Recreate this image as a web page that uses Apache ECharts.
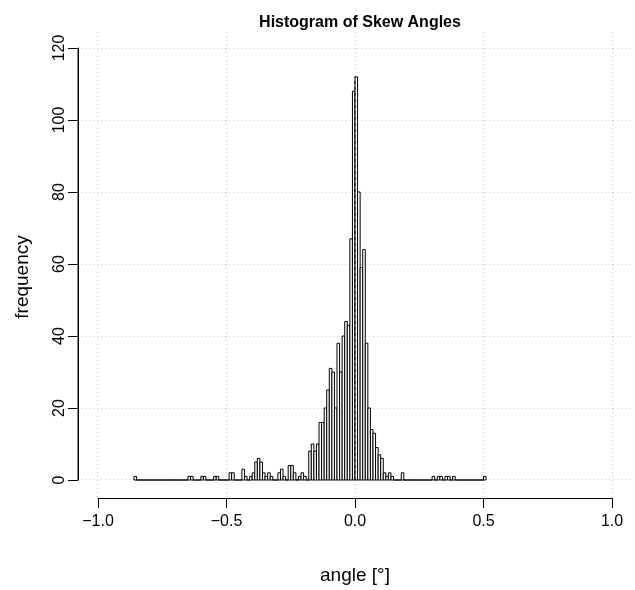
<!DOCTYPE html>
<html>
<head>
<meta charset="utf-8">
<script src="https://cdn.jsdelivr.net/npm/echarts@6/dist/echarts.min.js"></script>
<style>
  html, body { margin: 0; padding: 0; background: #fff; }
  #chart { width: 635px; height: 590px; }
</style>
</head>
<body>
<div id="chart"></div>
<script>
// Histogram of skew angles, bin width 0.01 degrees
const binWidth = 0.01;
const binStart = -0.86;
const counts = [
  // -0.86 .. -0.77
  1, 0, 0, 0, 0, 0, 0, 0, 0, 0,
  // -0.76 .. -0.67
  0, 0, 0, 0, 0, 0, 0, 0, 0, 0,
  // -0.66 .. -0.57
  0, 1, 1, 0, 0, 0, 1, 1, 0, 0,
  // -0.56 .. -0.47
  0, 1, 1, 0, 0, 0, 0, 2, 2, 0,
  // -0.46 .. -0.37
  0, 0, 3, 1, 0, 1, 2, 5, 6, 5,
  // -0.36 .. -0.27
  2, 1, 2, 1, 0, 0, 2, 3, 1, 0,
  // -0.26 .. -0.17
  4, 4, 2, 0, 1, 2, 1, 0, 8, 10,
  // -0.16 .. -0.07
  8, 10, 16, 16, 20, 25, 31, 30, 20, 38,
  // -0.06 .. 0.03
  30, 40, 44, 43, 67, 108, 112, 80, 59, 64,
  // 0.04 .. 0.13
  38, 20, 14, 13, 9, 7, 6, 2, 1, 2,
  // 0.14 .. 0.23
  1, 0, 0, 0, 2, 0, 0, 0, 0, 0,
  // 0.24 .. 0.33
  0, 0, 0, 0, 0, 0, 1, 0, 1, 1,
  // 0.34 .. 0.43
  0, 1, 1, 0, 1, 0, 0, 0, 0, 0,
  // 0.44 .. 0.50
  0, 0, 0, 0, 0, 0, 1
];

const xTicks = [-1.0, -0.5, 0.0, 0.5, 1.0];
const yTicks = [0, 20, 40, 60, 80, 100, 120];

const bins = counts.map((c, i) => {
  const x0 = +(binStart + i * binWidth).toFixed(2);
  return [x0, +(x0 + binWidth).toFixed(2), c];
});

const fontFamily = 'Liberation Sans, Arial, Helvetica, sans-serif';
const hiddenAxis = { show: false };

const chart = echarts.init(document.getElementById('chart'), null, { renderer: 'canvas' });

chart.setOption({
  animation: false,
  backgroundColor: '#ffffff',
  title: {
    text: 'Histogram of Skew Angles',
    left: 355, top: 10, textAlign: 'center',
    textStyle: { fontFamily, fontSize: 16, fontWeight: 'bold', color: '#000' }
  },
  grid: [
    // 0: data region, exactly -1..1 by 0..120
    { left: 98, right: 23, top: 48, bottom: 110 },
    // 1: full plotting region (4% padding) for the dotted guide lines
    { left: 77, right: 2, top: 31, bottom: 93 },
    // 2: carries the y axis on the left edge of the plotting region
    { left: 78, right: 23, top: 48, bottom: 110 },
    // 3: carries the x axis on the bottom edge of the plotting region
    { left: 98, right: 23, top: 48, bottom: 92 },
    // 4: positions the y axis title
    { left: 78, right: 23, top: 64, bottom: 100 }
  ],
  xAxis: [
    Object.assign({ gridIndex: 0, type: 'value', min: -1, max: 1 }, hiddenAxis),
    Object.assign({ gridIndex: 1, type: 'value', min: -1.08, max: 1.08 }, hiddenAxis),
    Object.assign({ gridIndex: 2, type: 'value', min: 0, max: 1 }, hiddenAxis),
    {
      gridIndex: 3, type: 'value', min: -1, max: 1, interval: 0.5, position: 'bottom',
      axisLine: { show: true, onZero: false, lineStyle: { color: '#000', width: 1 } },
      axisTick: { show: true, length: 10, lineStyle: { color: '#000' } },
      axisLabel: { fontFamily, fontSize: 16, color: '#000', margin: 16,
        formatter: v => (v < 0 ? '\u2212' : '') + Math.abs(v).toFixed(1) },
      splitLine: { show: false },
      name: 'angle [°]', nameLocation: 'middle', nameGap: 68,
      nameTextStyle: { fontFamily, fontSize: 19, color: '#000' }
    },
    Object.assign({ gridIndex: 4, type: 'value', min: 0, max: 1 }, hiddenAxis)
  ],
  yAxis: [
    Object.assign({ gridIndex: 0, type: 'value', min: 0, max: 120 }, hiddenAxis),
    Object.assign({ gridIndex: 1, type: 'value', min: -4.8, max: 124.8 }, hiddenAxis),
    {
      gridIndex: 2, type: 'value', min: 0, max: 120, interval: 20, position: 'left',
      axisLine: { show: true, onZero: false, lineStyle: { color: '#000', width: 1 } },
      axisTick: { show: true, length: 10, lineStyle: { color: '#000' } },
      axisLabel: { fontFamily, fontSize: 16, color: '#000', rotate: 90, margin: 10 },
      splitLine: { show: false }
    },
    Object.assign({ gridIndex: 3, type: 'value', min: 0, max: 1 }, hiddenAxis),
    {
      gridIndex: 4, type: 'value', min: 0, max: 1, position: 'left',
      axisLine: { show: false }, axisTick: { show: false },
      axisLabel: { show: false }, splitLine: { show: false },
      name: 'frequency', nameLocation: 'middle', nameGap: 46, nameRotate: 90,
      nameTextStyle: { fontFamily, fontSize: 19, color: '#000' }
    }
  ],
  series: [
    {
      // dotted reference grid
      type: 'line', xAxisIndex: 1, yAxisIndex: 1, data: [], z: 1, silent: true,
      markLine: {
        silent: true, symbol: 'none', label: { show: false },
        lineStyle: { color: '#c8c8c8', type: [1, 3], width: 1 },
        data: xTicks.map(v => ({ xAxis: v })).concat(yTicks.map(v => ({ yAxis: v })))
      }
    },
    {
      // y axis spine, spanning the tick range 0..120
      type: 'line', xAxisIndex: 2, yAxisIndex: 2, z: 6, silent: true, clip: false,
      symbol: 'none',
      data: [[0, yTicks[0]], [0, yTicks[yTicks.length - 1]]],
      lineStyle: { color: '#000', width: 1 }
    },
    {
      type: 'custom', xAxisIndex: 0, yAxisIndex: 0, z: 5,
      data: bins,
      renderItem: (params, api) => {
        const p0 = api.coord([api.value(0), 0]);
        const p1 = api.coord([api.value(1), api.value(2)]);
        return {
          type: 'rect',
          shape: { x: p0[0], y: p1[1], width: p1[0] - p0[0], height: p0[1] - p1[1] },
          style: { fill: '#fff', stroke: '#000', lineWidth: 1 }
        };
      }
    },
    {
      // dashed marker at zero
      type: 'line', xAxisIndex: 0, yAxisIndex: 0, z: 6, silent: true,
      symbol: 'none', data: [[0, 0], [0, Math.max(...counts)]],
      lineStyle: { color: '#000', width: 1, type: [3, 3] }
    }
  ]
});
</script>
</body>
</html>
